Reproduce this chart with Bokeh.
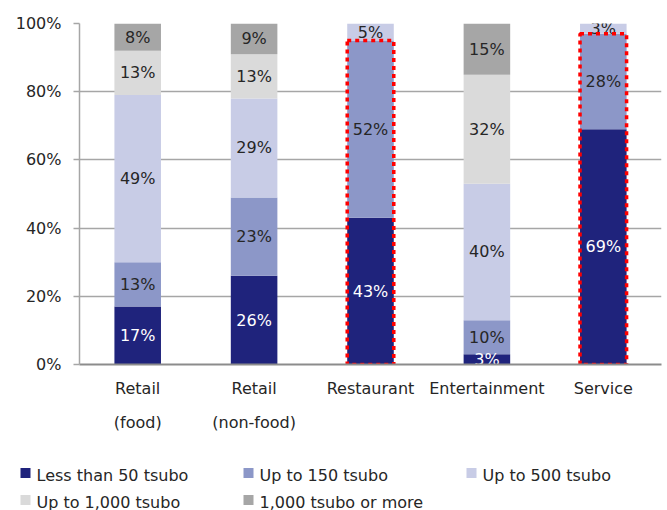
from bokeh.plotting import figure
from bokeh.layouts import column
from bokeh.models import (ColumnDataSource, Range1d, LinearAxis,
                          NumeralTickFormatter, FixedTicker)
from bokeh.core.properties import value
from bokeh.embed import file_html
from bokeh.resources import INLINE

categories = ["Retail (food)", "Retail (non-food)", "Restaurant", "Entertainment", "Service"]
tick_line1 = ["Retail", "Retail", "Restaurant", "Entertainment", "Service"]
tick_line2 = ["(food)", "(non-food)", "", "", ""]

series_names = ["Less than 50 tsubo", "Up to 150 tsubo", "Up to 500 tsubo",
                "Up to 1,000 tsubo", "1,000 tsubo or more"]
less_50 = [17, 26, 43, 3, 69]
upto_150 = [13, 23, 52, 10, 28]
upto_500 = [49, 29, 5, 40, 3]
upto_1000 = [13, 13, 0, 32, 0]
over_1000 = [8, 9, 0, 15, 0]
series_values = [less_50, upto_150, upto_500, upto_1000, over_1000]

highlighted = ["Restaurant", "Service"]

colors = ["#1F237C", "#8C97C8", "#C8CCE6", "#DADADA", "#A6A6A6"]
text_colors = ["#FFFFFF", "#262626", "#262626", "#262626", "#262626"]
FONT = "DejaVu Sans"

W = 665
MAIN_H = 446
LEG_H = 64

xpos = [i + 0.5 for i in range(len(categories))]

data = {"x": xpos}
keys = []
for i, vals in enumerate(series_values):
    k = f"s{i}"
    keys.append(k)
    data[k] = [v / 100 for v in vals]
source = ColumnDataSource(data)

p = figure(width=W, height=MAIN_H, x_range=Range1d(0, len(categories)), y_range=Range1d(0, 1),
           output_backend="svg", toolbar_location=None, x_axis_location=None,
           min_border_left=79, min_border_right=4, min_border_top=23, min_border_bottom=82,
           frame_align=False)
p.outline_line_color = None
p.background_fill_color = "white"

renderers = p.vbar_stack(keys, x="x", width=0.4, color=colors, line_color=None, source=source)

# segment labels
lx, ly, lt, lc = [], [], [], []
for ci in range(len(categories)):
    base = 0.0
    for si, vals in enumerate(series_values):
        v = vals[ci]
        if v > 0:
            lx.append(xpos[ci])
            ly.append((base + v / 2) / 100)
            lt.append(f"{v}%")
            lc.append(text_colors[si])
        base += v
p.text(x=lx, y=ly, text=lt, text_color=lc, text_align="center", text_baseline="middle",
       text_font=value(FONT), text_font_size="16px")

# red dotted highlight boxes around first two segments
hx, hy, hh = [], [], []
for cat in highlighted:
    ci = categories.index(cat)
    top = (less_50[ci] + upto_150[ci]) / 100
    hx.append(xpos[ci]); hy.append(top / 2); hh.append(top)
p.rect(x=hx, y=hy, width=0.4, height=hh, fill_color=None, line_color="#FF0000",
       line_width=3.5, line_dash="4 4")

# grid
p.xgrid.grid_line_color = None
p.ygrid.grid_line_color = "#A6A6A6"
p.ygrid.grid_line_width = 1.5
p.ygrid.ticker = FixedTicker(ticks=[0.2, 0.4, 0.6, 0.8, 1.0])

# y axis
ya = p.yaxis[0]
ya.ticker = FixedTicker(ticks=[0, 0.2, 0.4, 0.6, 0.8, 1.0])
ya.formatter = NumeralTickFormatter(format="0%")
ya.axis_line_color = "#A6A6A6"
ya.axis_line_width = 1.5
ya.major_tick_line_color = "#A6A6A6"
ya.major_tick_line_width = 1.5
ya.major_tick_out = 6
ya.major_tick_in = 0
ya.minor_tick_line_color = None
ya.major_label_standoff = 12
ya.major_label_text_font = FONT
ya.major_label_text_font_size = "16px"
ya.major_label_text_color = "#262626"

# x axes (two lines of labels)
def make_xaxis(labels, standoff, line_color):
    ax = LinearAxis(ticker=FixedTicker(ticks=xpos),
                    major_label_overrides={x: t for x, t in zip(xpos, labels)})
    ax.axis_line_color = line_color
    ax.axis_line_width = 2
    ax.major_tick_line_color = None
    ax.minor_tick_line_color = None
    ax.major_tick_out = 0
    ax.major_tick_in = 0
    ax.major_label_standoff = standoff
    ax.major_label_text_font = FONT
    ax.major_label_text_font_size = "16px"
    ax.major_label_text_color = "#262626"
    return ax

p.add_layout(make_xaxis(tick_line1, 14, "#8C8C8C"), "below")
p.add_layout(make_xaxis(tick_line2, 12, None), "below")

# legend as its own small figure (pixel-like coordinates, y downward)
lg = figure(width=W, height=LEG_H, x_range=Range1d(0, W), y_range=Range1d(LEG_H, 0),
            output_backend="svg", toolbar_location=None, frame_align=False,
            min_border=0, x_axis_location=None, y_axis_location=None)
lg.outline_line_color = None
lg.xgrid.grid_line_color = None
lg.ygrid.grid_line_color = None

col_left = [20, 243, 466]
row_base = [29, 56]
mx, my, tx, ty = [], [], [], []
for i in range(len(series_names)):
    r, c = divmod(i, 3)
    mx.append(col_left[c] + 5)
    my.append(row_base[r] - 2.5)
    tx.append(col_left[c] + 16)
    ty.append(row_base[r])
lg.rect(x=mx, y=my, width=10, height=10, fill_color=colors, line_color=None)
lg.text(x=tx, y=ty, text=series_names, text_color="#262626", text_align="left",
        text_baseline="alphabetic", text_font=value(FONT), text_font_size="16px")

layout = column(p, lg, spacing=0)
open("out.html", "w").write(file_html(layout, INLINE))
